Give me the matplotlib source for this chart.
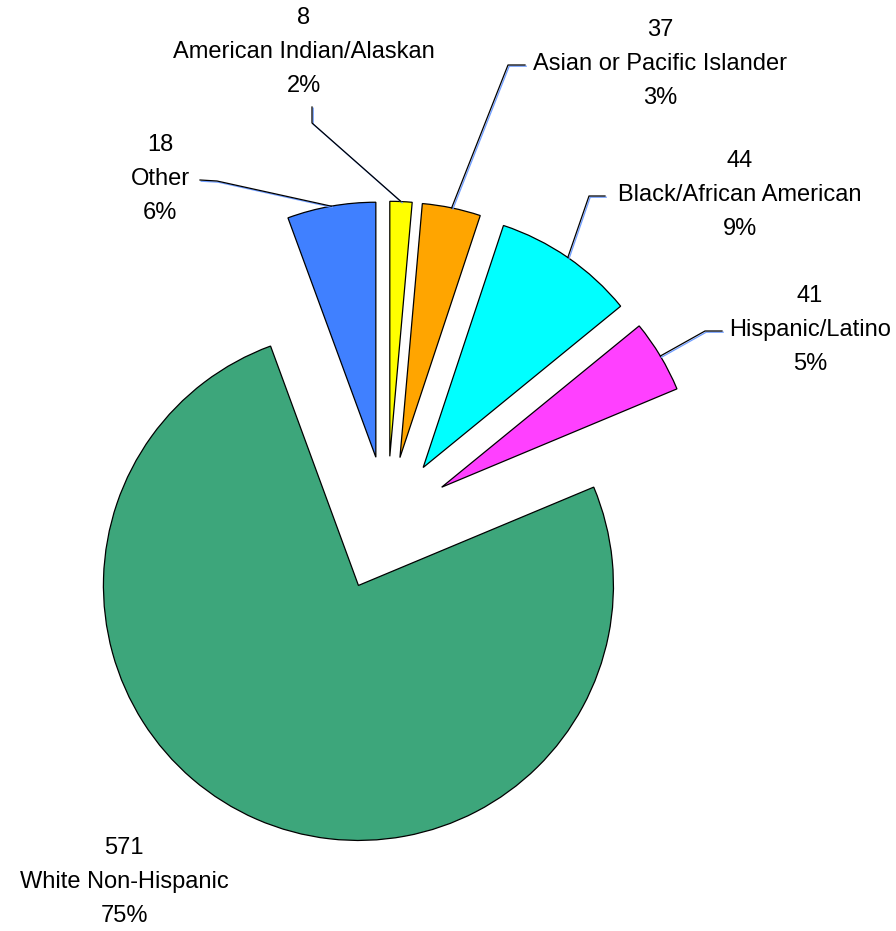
import matplotlib
matplotlib.use("Agg")
import matplotlib.pyplot as plt
import matplotlib.transforms as mtransforms
import numpy as np

# data
categorias = ["American Indian/Alaskan", "Asian or Pacific Islander",
              "Black/African American", "Hispanic/Latino",
              "White Non-Hispanic", "Other"]
contagens = [8, 37, 44, 41, 571, 18]
percentuais = [2, 3, 9, 5, 75, 6]            # como impresso nos rotulos
fatias_pct = [1.4, 3.7, 9.0, 4.6, 75.7, 5.6]  # tamanho das fatias
cores = ["#FFFF00", "#FFA500", "#00FFFF", "#FF40FF", "#3DA67B", "#4080FF"]
afastamento = [0.25, 0.25, 0.25, 0.25, 0.28, 0.25]

W, H = 896, 931
CX, CY, R = 387, 520, 255  # centro do pie e raio em pixels


def px(x, y):
    # posicao em pixels (origem no topo) -> unidades do pie
    return (x - CX) / R, (CY - y) / R


# posicao do texto (pixels) e cotovelo da linha guia, na ordem das categorias
rotulos_pos = [(304, 52), (660, 64), (740, 195), (810, 330), (124, 882), (160, 179)]
guias = [
    [(312, 107), (312, 123)],
    [(525, 65), (508, 65)],
    [(605, 196), (589, 196)],
    [(722, 331), (705, 331)],
    None,
    [(200, 180), (217, 181)],
]

plt.rcParams["font.family"] = ["Liberation Sans", "DejaVu Sans"]

fig = plt.figure(figsize=(W / 100, H / 100), dpi=100)
ax = fig.add_axes([0, 0, 1, 1])

fatias, _ = ax.pie(
    fatias_pct,
    colors=cores,
    explode=afastamento,
    startangle=90,
    counterclock=False,
    radius=1,
    wedgeprops=dict(edgecolor="black", linewidth=0.9),
)

x0, y0 = px(0, H)
x1, y1 = px(W, 0)
ax.set_xlim(x0, x1)
ax.set_ylim(y0, y1)
ax.set_aspect("equal")
ax.axis("off")

sombra = mtransforms.offset_copy(ax.transData, fig=fig, x=1.2, y=-1.2, units="dots")

for fatia, cat, n, p, pos, guia in zip(fatias, categorias, contagens,
                                        percentuais, rotulos_pos, guias):
    tx, ty = px(*pos)
    ax.text(tx, ty, f"{n}\n{cat}\n{p}%", ha="center", va="center",
            fontsize=17, linespacing=1.72, color="black")
    if guia is None:
        continue
    tm = np.deg2rad((fatia.theta1 + fatia.theta2) / 2)
    cx, cy = fatia.center
    bx, by = cx + fatia.r * np.cos(tm), cy + fatia.r * np.sin(tm)
    pts = [px(*g) for g in guia] + [(bx, by)]
    xs = [q[0] for q in pts]
    ys = [q[1] for q in pts]
    ax.plot(xs, ys, color="#6E9CFF", linewidth=0.9, transform=sombra)
    ax.plot(xs, ys, color="black", linewidth=0.9)

fig.savefig("out.png", dpi=100)
plt.close(fig)
